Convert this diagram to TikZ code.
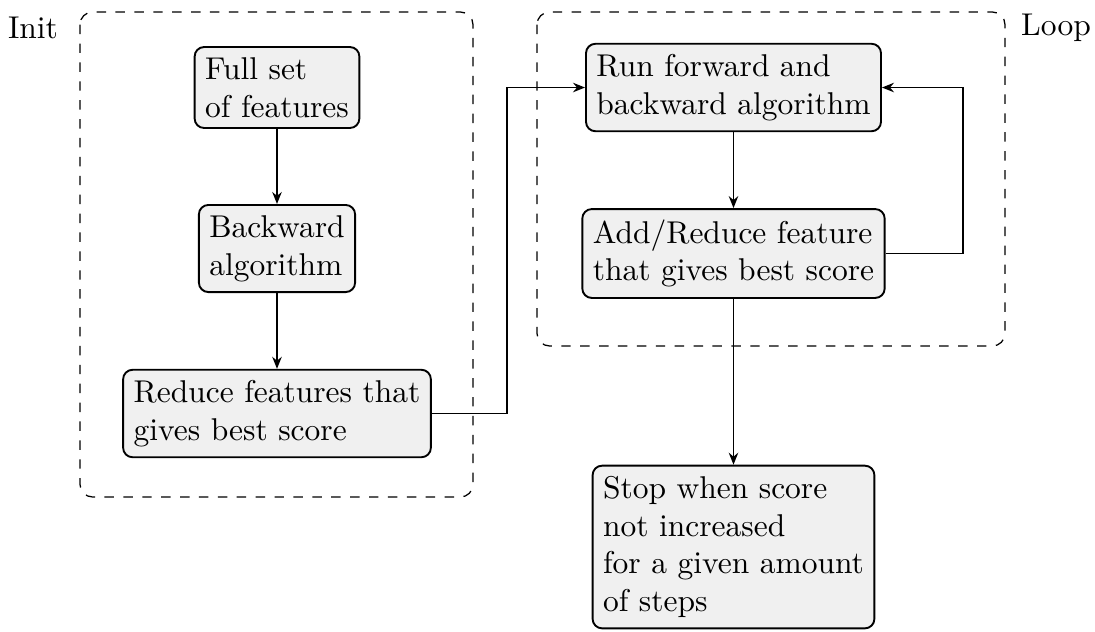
\documentclass[tikz,border=0pt]{standalone}
\usetikzlibrary{arrows.meta}
\begin{document}
\begin{tikzpicture}[x=0.3175pt,y=-0.3175pt,
  box/.style={draw, semithick, rounded corners=3pt, fill=black!6, align=left, inner sep=3.33pt},
  arr/.style={line width=0.6pt, -{Stealth[length=3.8pt,width=3pt]}},
  grp/.style={draw, dashed, rounded corners=4pt}]
\useasboundingbox (0,0) rectangle (1095,631);
\draw[grp] (80,12) rectangle (473,497);
\draw[grp] (537,12) rectangle (1005,346);
\node (init) at (33,28) {Init};
\node (loop) at (1056,28) {Loop};
\node[box] (full) at (277,87.5) {Full set\\of features};
\node[box] (back) at (277,248.5) {Backward\\algorithm};
\node[box] (red) at (277,413.5) {Reduce features that\\gives best score};
\node[box] (run) at (733.5,87.5) {Run forward and\\backward algorithm};
\node[box] (add) at (733.5,253.5) {Add/Reduce feature\\that gives best score};
\node[box] (stop) at (733.5,547) {Stop when score\\not increased\\for a given amount\\of steps};
\draw[arr] (full) -- (back);
\draw[arr] (back) -- (red);
\draw[arr] (red.east) -- ++(75,0) |- (run.west);
\draw[arr] (run) -- (add);
\draw[arr] (add.east) -- ++(77,0) |- (run.east);
\draw[arr] (add) -- (stop);
\end{tikzpicture}
\end{document}
